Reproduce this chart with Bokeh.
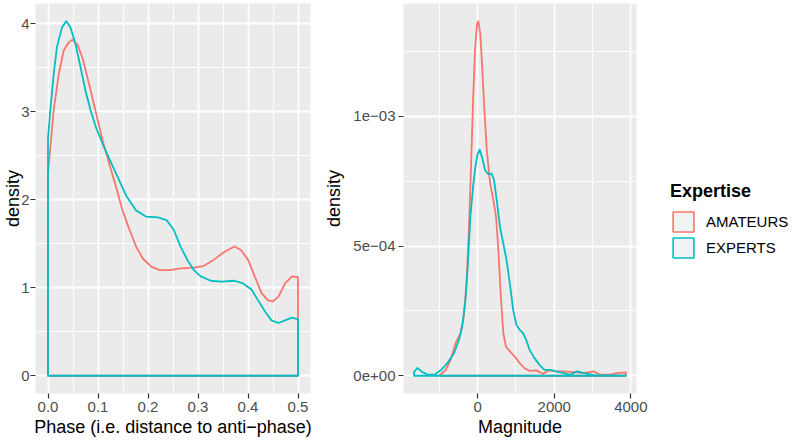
from bokeh.plotting import figure
from bokeh.models import (FixedTicker, Legend, LegendItem, PrintfTickFormatter, Range1d,
                          ColumnDataSource)
from bokeh.layouts import row
from bokeh.embed import file_html
from bokeh.resources import INLINE

# ---------------- data ----------------
groups = ["AMATEURS", "EXPERTS"]
colors = ["#F8766D", "#00BFC4"]

phase_am_x = [0.0, 0.0047, 0.0114, 0.0215, 0.0316, 0.0417, 0.0485, 0.0585, 0.0686, 0.082,
              0.0955, 0.109, 0.1225, 0.136, 0.149, 0.163, 0.176, 0.19, 0.2066, 0.2234,
              0.2436, 0.265, 0.292, 0.312, 0.332, 0.353, 0.373, 0.386, 0.40, 0.4135,
              0.427, 0.44, 0.449, 0.461, 0.474, 0.488, 0.5]
phase_am_y = [2.30, 2.60, 3.02, 3.43, 3.70, 3.79, 3.82, 3.77, 3.62, 3.32,
              3.00, 2.68, 2.41, 2.15, 1.88, 1.66, 1.47, 1.33, 1.24, 1.20,
              1.20, 1.22, 1.23, 1.25, 1.32, 1.41, 1.47, 1.43, 1.32, 1.13,
              0.94, 0.856, 0.845, 0.90, 1.05, 1.13, 1.12]

phase_ex_x = [0.0, 0.0047, 0.0114, 0.018, 0.028, 0.0363, 0.045, 0.055, 0.065, 0.075,
              0.085, 0.0955, 0.109, 0.119, 0.136, 0.156, 0.176, 0.196, 0.22, 0.237,
              0.2514, 0.2649, 0.2784, 0.292, 0.3054, 0.3257, 0.346, 0.373, 0.39, 0.407,
              0.42, 0.434, 0.447, 0.461, 0.474, 0.488, 0.5]
phase_ex_y = [2.70, 3.02, 3.43, 3.74, 3.96, 4.03, 3.96, 3.77, 3.51, 3.24,
              3.02, 2.83, 2.64, 2.51, 2.30, 2.05, 1.88, 1.81, 1.80, 1.77,
              1.66, 1.47, 1.32, 1.20, 1.13, 1.08, 1.07, 1.08, 1.05, 0.98,
              0.86, 0.73, 0.63, 0.60, 0.63, 0.66, 0.64]

mag_am_x = [-990, -833, -704, -575, -446, -361, -292, -232, -172, -120,
            -69, -17, 17, 69, 120, 172, 240, 326, 412, 481,
            541, 601, 670, 738, 841, 970, 1099, 1228, 1356, 1528,
            1700, 1871, 2043, 2246, 2592, 2765, 3024, 3197, 3456, 3629, 3871]
mag_am_y = [2e-6, 2.3e-5, 6.2e-5, 1.26e-4, 1.64e-4, 2.28e-4, 3.56e-4, 5.49e-4, 8.05e-4, 1.06e-3,
            1.254e-3, 1.356e-3, 1.367e-3, 1.318e-3, 1.19e-3, 1.036e-3, 8.69e-4, 7.41e-4, 6.77e-4, 6.13e-4,
            4.85e-4, 3.18e-4, 1.64e-4, 1.13e-4, 9.4e-5, 7.4e-5, 4.9e-5, 2.9e-5, 1.9e-5, 2.1e-5,
            8e-6, 2.1e-5, 1.7e-5, 1.7e-5, 1.3e-5, 1e-5, 1.7e-5, 4e-6, 4e-6, 1e-5, 1.3e-5]

mag_ex_x = [-1659, -1572, -1450, -1296, -1123, -950, -790, -618, -489, -403,
            -318, -258, -189, -120, -60, 0, 52, 112, 197, 283,
            369, 429, 498, 584, 670, 755, 841, 927, 1013, 1099,
            1185, 1270, 1356, 1485, 1614, 1743, 1914, 2043, 2246, 2419,
            2592, 2851, 3110, 3500, 3860]
mag_ex_y = [1.5e-5, 3.0e-5, 1.5e-5, 4e-6, 4e-6, 2.3e-5, 4.9e-5, 8.7e-5, 1.38e-4, 1.9e-4,
            2.92e-4, 4.2e-4, 6.13e-4, 7.28e-4, 8.05e-4, 8.56e-4, 8.72e-4, 8.44e-4, 7.92e-4, 7.77e-4,
            7.79e-4, 7.54e-4, 6.77e-4, 5.74e-4, 5.1e-4, 4.46e-4, 3.56e-4, 2.54e-4, 1.96e-4, 1.77e-4,
            1.64e-4, 1.38e-4, 1.0e-4, 6.8e-5, 4.2e-5, 2.3e-5, 2.3e-5, 1.7e-5, 1e-5, 4e-6,
            1.7e-5, 8e-6, 1e-6, 1e-6, 1e-6]

phase_xticks = [0.0, 0.1, 0.2, 0.3, 0.4, 0.5]
phase_xminor = [0.05, 0.15, 0.25, 0.35, 0.45]
phase_yticks = [0, 1, 2, 3, 4]
phase_yminor = [0.5, 1.5, 2.5, 3.5]
mag_xticks = [0, 2000, 4000]
mag_xminor = [-1000, 1000, 3000]
mag_yticks = [0.0, 0.0005, 0.001]
mag_yminor = [0.00025, 0.00075, 0.00125]
mag_ylabels = ["0e+00", "5e\u221204", "1e\u221203"]

FONT = "Liberation Sans"
H = 440
TOP = 3
BOTTOM = 47


def expand(vals, lo0=None):
    lo = min(vals) if lo0 is None else min(min(vals), lo0)
    hi = max(vals)
    d = (hi - lo) * 0.05
    return Range1d(lo - d, hi + d)


def style(p, xticks, xminor, yticks, yminor):
    p.background_fill_color = "#EBEBEB"
    p.border_fill_color = "white"
    p.outline_line_color = None
    p.xaxis.ticker = FixedTicker(ticks=xticks, minor_ticks=xminor)
    p.yaxis.ticker = FixedTicker(ticks=yticks, minor_ticks=yminor)
    for g in (p.xgrid, p.ygrid):
        g.grid_line_color = "white"
        g.grid_line_width = 1.8
        g.minor_grid_line_color = "white"
        g.minor_grid_line_width = 0.9
    for ax in p.axis:
        ax.axis_line_color = None
        ax.major_tick_line_color = "#333333"
        ax.major_tick_line_width = 1.2
        ax.major_tick_out = 5
        ax.major_tick_in = 0
        ax.minor_tick_line_color = None
        ax.major_label_text_color = "#4D4D4D"
        ax.major_label_text_font = FONT
        ax.major_label_text_font_size = "15px"
        ax.axis_label_text_font = FONT
        ax.axis_label_text_font_size = "18px"
        ax.axis_label_text_font_style = "normal"
        ax.axis_label_text_color = "black"
    p.yaxis.major_label_standoff = 1
    p.yaxis.axis_label_standoff = -5
    p.xaxis.major_label_standoff = 3
    p.xaxis.axis_label_standoff = 2


def density(p, xs, ys, color):
    px = [xs[0]] + list(xs) + [xs[-1]]
    py = [0.0] + list(ys) + [0.0]
    return p.patch(px, py, fill_color=None, line_color=color, line_width=1.8,
                   line_join="round")


# ---------------- left panel ----------------
p1 = figure(width=320, height=H, output_backend="svg", toolbar_location=None,
            x_range=expand(phase_am_x + phase_ex_x),
            y_range=expand(phase_am_y + phase_ex_y, 0.0),
            min_border_left=30, min_border_right=10, min_border_top=TOP,
            min_border_bottom=BOTTOM)
style(p1, phase_xticks, phase_xminor, phase_yticks, phase_yminor)
p1.xaxis.formatter = PrintfTickFormatter(format="%.1f")
p1.xaxis.axis_label = "Phase (i.e. distance to anti\u2212phase)"
p1.yaxis.axis_label = "density"
density(p1, phase_am_x, phase_am_y, colors[0])
density(p1, phase_ex_x, phase_ex_y, colors[1])

# ---------------- right panel ----------------
p2 = figure(width=330, height=H, output_backend="svg", toolbar_location=None,
            x_range=expand(mag_am_x + mag_ex_x),
            y_range=expand(mag_am_y + mag_ex_y, 0.0),
            min_border_left=83, min_border_right=14, min_border_top=TOP,
            min_border_bottom=BOTTOM)
style(p2, mag_xticks, mag_xminor, mag_yticks, mag_yminor)
p2.yaxis.major_label_standoff = 3
p2.yaxis.axis_label_standoff = 6
p2.yaxis.major_label_overrides = dict(zip(mag_yticks, mag_ylabels))
p2.xaxis.axis_label = "Magnitude"
p2.yaxis.axis_label = "density"
density(p2, mag_am_x, mag_am_y, colors[0])
density(p2, mag_ex_x, mag_ex_y, colors[1])

# ---------------- legend ----------------
p3 = figure(width=140, height=H, output_backend="svg", toolbar_location=None,
            x_range=Range1d(0, 1), y_range=Range1d(0, 1),
            min_border_left=0, min_border_right=0, min_border_top=TOP,
            min_border_bottom=BOTTOM)
p3.axis.visible = False
p3.grid.visible = False
p3.outline_line_color = None
p3.background_fill_color = "white"
nan = float("nan")
key_src = ColumnDataSource(dict(l=[nan] * len(groups), r=[nan] * len(groups),
                                t=[nan] * len(groups), b=[nan] * len(groups),
                                color=colors, group=groups))
keys = p3.quad(left="l", right="r", top="t", bottom="b", source=key_src,
               fill_color="#F2F2F2", line_color="color", line_width=1.6)
items = [LegendItem(label=g, renderers=[keys], index=i) for i, g in enumerate(groups)]
leg = Legend(items=items, title="Expertise", location=(20, 133), margin=0, padding=0,
             border_line_color=None, background_fill_color=None,
             glyph_width=26, glyph_height=25, label_height=25, label_standoff=10,
             spacing=1, title_standoff=7,
             title_text_font=FONT, title_text_font_size="18px", title_text_font_style="bold",
             title_text_color="black",
             label_text_font=FONT, label_text_font_size="15px", label_text_color="black")
p3.add_layout(leg, "center")

layout = row(p1, p2, p3)
open("out.html", "w").write(file_html(layout, INLINE))
